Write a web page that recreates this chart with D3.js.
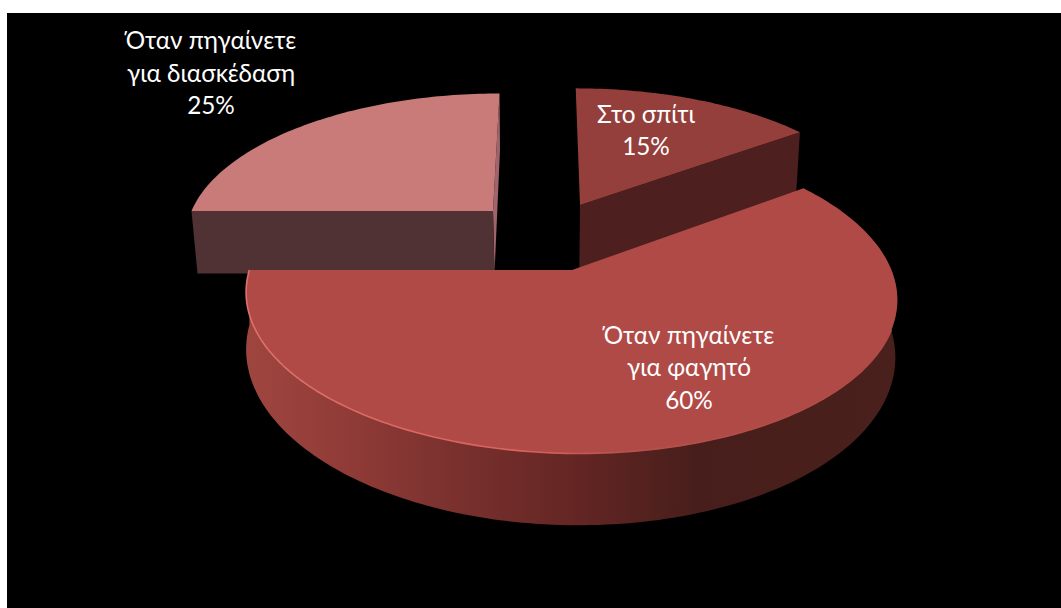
<!DOCTYPE html>
<html lang="el">
<head>
<meta charset="utf-8">
<style>
  html, body { margin: 0; padding: 0; background: #fff; overflow: hidden; }
  svg { display: block; }
  text { font-family: Lato, "Open Sans", "Noto Sans", sans-serif; fill: #fff; text-anchor: middle; }
</style>
</head>
<body>
<svg id="chart" width="1061" height="608"></svg>
<script src="https://cdn.jsdelivr.net/npm/d3@7/dist/d3.min.js"></script>
<script>
// Share of occasions, clockwise from twelve o'clock
const categories = ["Στο σπίτι", "Όταν πηγαίνετε για φαγητό", "Όταν πηγαίνετε για διασκέδαση"];
const shares = [15, 60, 25];
const labelLines = [["Στο σπίτι"], ["Όταν πηγαίνετε", "για φαγητό"], ["Όταν πηγαίνετε", "για διασκέδαση"]];

const topColors = ["#953f3c", "#b04a46", "#c97b7a"];
const wallColors = ["#4d201f", null, "#503234"];

// Perspective discs: each exploded slice has a top and a bottom rim
const p = 0.166;
const discs = [
  { top: { ax: 580, ay: 205, rx: 302, ry: 136, sk: -5, p, q: 0 },
    bottom: { ax: 579.3, ay: 272, rx: 298, ry: 150, sk: -5, p, q: 0 } },
  { top: { ax: 572, ay: 270, rx: 321, ry: 153, sk: -8, p, q: 0.005 },
    bottom: { ax: 572, ay: 325, rx: 320, ry: 167, sk: -8, p, q: 0.008 } },
  { top: { ax: 493, ay: 211, rx: 301.5, ry: 137, sk: 7.6, p, q: 0 },
    bottom: { ax: 494.5, ay: 273.5, rx: 297, ry: 144, sk: 6.4, p, q: 0 } }
];

const labelPositions = [[646, 114], [689, 335], [211, 40.5]];
const lineGap = 32.7;

const project = (d, a) => {
  const w = 1 + d.p * Math.cos(a) + d.q * Math.sin(a);
  return [d.ax + (d.rx * Math.sin(a) + d.sk * Math.cos(a)) / w,
          d.ay - d.ry * Math.cos(a) / w];
};
const rimPoints = (d, a0, a1) => {
  const n = Math.max(2, Math.ceil(Math.abs(a1 - a0) / 0.02));
  return d3.range(n + 1).map(i => project(d, a0 + (a1 - a0) * i / n));
};

const svg = d3.select("#chart");
const line = d3.line();
const closed = pts => line(pts) + "Z";
const arcs = d3.pie().sort(null).value(d => d)(shares);

const defs = svg.append("defs");
const wallGrad = defs.append("linearGradient")
  .attr("id", "wallShade").attr("gradientUnits", "userSpaceOnUse")
  .attr("x1", 250).attr("x2", 890).attr("y1", 0).attr("y2", 0);
[[0, "#9f4540"], [0.17, "#8e3a36"], [0.3, "#7c322f"], [0.5, "#652624"], [0.7, "#471e1b"], [1, "#4a201c"]]
  .forEach(([o, c]) => wallGrad.append("stop").attr("offset", o).attr("stop-color", c));
const rimGrad = defs.append("linearGradient")
  .attr("id", "rimShade").attr("gradientUnits", "userSpaceOnUse")
  .attr("x1", 250).attr("x2", 890).attr("y1", 0).attr("y2", 0);
[[0, "#e0706a"], [0.42, "#d9635d"], [0.58, "#b8524d"], [1, "#b04a46"]]
  .forEach(([o, c]) => rimGrad.append("stop").attr("offset", o).attr("stop-color", c));
defs.append("filter").attr("id", "soft").append("feGaussianBlur").attr("stdDeviation", 0.6);

svg.append("rect").attr("x", 7).attr("y", 13).attr("width", 1054).attr("height", 595).attr("fill", "#000");

const radialWall = (d, a, fill) => svg.append("path")
  .attr("d", closed([[d.top.ax, d.top.ay], project(d.top, a), project(d.bottom, a), [d.bottom.ax, d.bottom.ay]]))
  .attr("fill", fill);
const topFace = (d, arc, fill) => svg.append("path")
  .attr("d", closed([[d.top.ax, d.top.ay], ...rimPoints(d.top, arc.startAngle, arc.endAngle)]))
  .attr("fill", fill);

// Back-right and back-left slices first, the large front slice last
radialWall(discs[2], arcs[2].endAngle, "#a0646a");
radialWall(discs[2], arcs[2].startAngle, wallColors[2]);
topFace(discs[2], arcs[2], topColors[2]);

radialWall(discs[0], arcs[0].endAngle, wallColors[0]);
topFace(discs[0], arcs[0], topColors[0]);

const big = discs[1], bigArc = arcs[1];
svg.append("path")
  .attr("d", closed([...rimPoints(big.top, bigArc.startAngle, bigArc.endAngle),
                     ...rimPoints(big.bottom, bigArc.endAngle, bigArc.startAngle)]))
  .attr("fill", "url(#wallShade)");
topFace(big, bigArc, topColors[1]);
svg.append("path")
  .attr("d", line(rimPoints(big.top, Math.PI * 0.62, bigArc.endAngle)))
  .attr("fill", "none").attr("stroke", "url(#rimShade)").attr("stroke-width", 1.6)
  .attr("filter", "url(#soft)");

// Category names with the percentage underneath
arcs.forEach((arc, i) => {
  const [x, y] = labelPositions[i];
  const lines = [...labelLines[i], `${arc.data}%`];
  const text = svg.append("text").attr("font-size", 24.3);
  lines.forEach((s, j) => text.append("tspan")
    .attr("x", x).attr("y", y + j * lineGap).attr("dy", "0.35em").text(s));
});
</script>
</body>
</html>
